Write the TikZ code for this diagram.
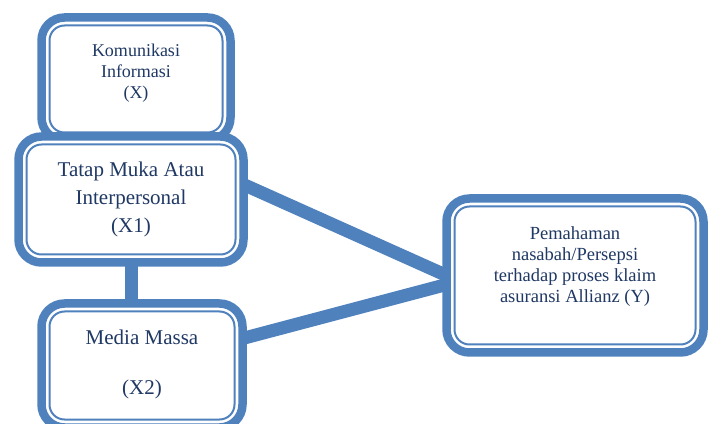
\documentclass[tikz,border=0pt]{standalone}
\usepackage{fontspec}
\setmainfont{Liberation Serif}
\usetikzlibrary{backgrounds}
\definecolor{bord}{HTML}{4F81BD}
\definecolor{ink}{HTML}{1F3864}
\begin{document}
\begin{tikzpicture}[x=1pt,y=1pt,
  box/.style={draw=bord, line width=8.5pt, rounded corners=23pt, fill=white, inner sep=0pt, outer sep=0pt},
  innerline/.style={draw=bord, line width=2pt, rounded corners=15pt},
  txt/.style={text=ink, align=center, inner sep=0pt},
  conn/.style={draw=bord, line width=13pt}]
\useasboundingbox (0,0) rectangle (712,423);
\clip (0,0) rectangle (712,423);
% box X
\node[box, minimum width=189pt, minimum height=123pt] (X) at (136,344) {};
\draw[innerline] ([shift={(8,-8)}]X.north west) rectangle ([shift={(-8,8)}]X.south east);
\node[txt, font=\fontsize{18}{21}\selectfont] (Xt) at ([yshift=6]X.center) {Komunikasi\\Informasi\\(X)};
% box X1
\node[box, minimum width=225pt, minimum height=126pt] (X1) at (131,223.5) {};
\draw[innerline] ([shift={(8,-8)}]X1.north west) rectangle ([shift={(-8,8)}]X1.south east);
\node[txt, font=\fontsize{21}{28}\selectfont] (X1t) at (X1.center) {Tatap Muka Atau\\Interpersonal\\(X1)};
% box X2
\node[box, minimum width=201pt, minimum height=124pt] (X2) at (142,57.5) {};
\draw[innerline] ([shift={(8,-8)}]X2.north west) rectangle ([shift={(-8,8)}]X2.south east);
\node[txt, font=\fontsize{21}{25}\selectfont] (X2t) at ([yshift=1]X2.center) {Media Massa\\[25pt](X2)};
% box Y
\node[box, minimum width=257pt, minimum height=154pt] (Y) at (575,147.5) {};
\draw[innerline] ([shift={(8,-8)}]Y.north west) rectangle ([shift={(-8,8)}]Y.south east);
\node[txt, font=\fontsize{18.5}{21}\selectfont] (Yt) at ([yshift=8.5]Y.center) {Pemahaman\\nasabah/Persepsi\\terhadap proses klaim\\asuransi Allianz (Y)};
% connectors
\begin{pgfonlayer}{background}
\draw[conn] (X1.south) -- (X1.south |- X2.north);
\draw[conn] ([yshift=15]X1.east) -- ([yshift=0]Y.west);
\draw[conn] ([yshift=27]X2.east) -- ([yshift=-9]Y.west);
\end{pgfonlayer}
\end{tikzpicture}
\end{document}
